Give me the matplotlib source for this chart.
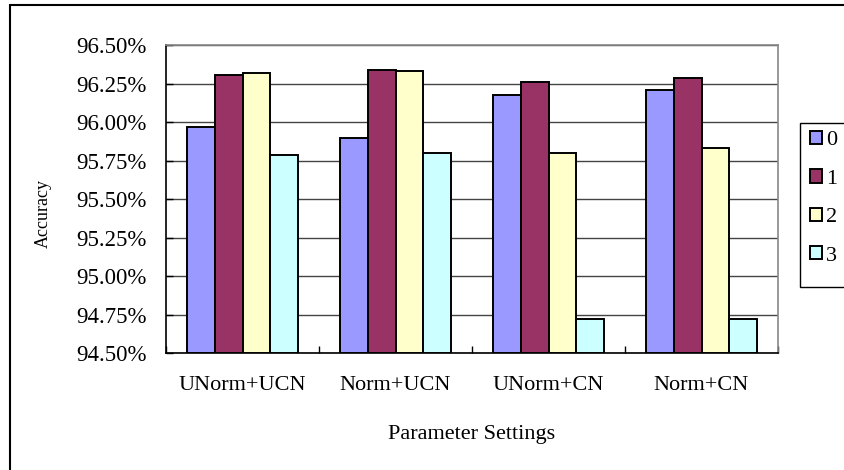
import matplotlib.pyplot as plt
import numpy as np
from matplotlib.patches import Rectangle, Patch
from matplotlib.ticker import FixedLocator, PercentFormatter

plt.rcParams['font.family'] = ['Liberation Serif', 'DejaVu Serif']

# accuracy (%) per parameter setting, one series per variant
settings = ["UNorm+UCN", "Norm+UCN", "UNorm+CN", "Norm+CN"]
series_names = ["0", "1", "2", "3"]
acc_0 = [95.97, 95.90, 96.18, 96.21]
acc_1 = [96.31, 96.34, 96.26, 96.29]
acc_2 = [96.32, 96.33, 95.80, 95.83]
acc_3 = [95.79, 95.80, 94.72, 94.72]
yticks = [94.50, 94.75, 95.00, 95.25, 95.50, 95.75, 96.00, 96.25, 96.50]

colors = ["#9999FF", "#993366", "#FFFFCC", "#CCFFFF"]

W, H = 844, 470
fig = plt.figure(figsize=(W / 100, H / 100), dpi=100)

# outer chart border (only left/top edges fall inside the image)
fig.patches.append(Rectangle((10 / W, -0.2), 1.2, 1.2 - 5 / H, transform=fig.transFigure,
                             fill=False, edgecolor="black", linewidth=1.5))

ax = fig.add_axes([166 / W, (H - 353.3) / H, 612 / W, 308 / H])

x = np.arange(len(settings))
w = 1 / 5.5
for k, vals in enumerate([acc_0, acc_1, acc_2, acc_3]):
    ax.bar(x + (k - 1.5) * w, np.array(vals) - 94.5, bottom=94.5, width=w,
           color=colors[k], edgecolor="black", linewidth=1.4, zorder=3)

ax.set_xlim(-0.5, len(settings) - 0.5)
ax.set_ylim(94.5, 96.5)
ax.yaxis.set_major_locator(FixedLocator(yticks))
ax.yaxis.set_major_formatter(PercentFormatter(decimals=2))
ax.grid(axis="y", color="#444444", linewidth=1.0, zorder=0)

ax.set_xticks(x)
ax.set_xticklabels(settings)
ax.set_xticks(np.arange(len(settings) + 1) - 0.5, minor=True)
ax.tick_params(axis="x", which="major", length=0, pad=16, labelsize=16)
ax.tick_params(axis="x", which="minor", direction="in", length=5, width=1)
ax.tick_params(axis="y", direction="in", length=5, width=1, pad=14, labelsize=16.5)

for s in ["top", "right"]:
    ax.spines[s].set_color("#888888")
    ax.spines[s].set_linewidth(1.2)
for s in ["left", "bottom"]:
    ax.spines[s].set_color("black")
    ax.spines[s].set_linewidth(1.2)

ax.set_ylabel("Accuracy", fontsize=13)
ax.yaxis.set_label_coords((52 - 166) / 612, (353.3 - 213) / 308)
ax.set_xlabel("Parameter Settings", fontsize=16)
ax.xaxis.set_label_coords(0.5, -(425 - 353.3) / 308)

# legend frame drawn separately so it runs off the right edge
fig.patches.append(Rectangle((800 / W, (H - 287) / H), 60 / W, 164 / H,
                             transform=fig.transFigure, fill=True, facecolor="white",
                             edgecolor="black", linewidth=1.0, zorder=1))
handles = [Patch(facecolor=c, edgecolor="black", linewidth=1.4) for c in colors]
fig.legend(handles, series_names, loc="upper left",
           bbox_to_anchor=(803 / W, (H - 124) / H), frameon=False,
           fontsize=16, handlelength=0.55, handleheight=0.55, handletextpad=0.2,
           labelspacing=0.85, borderpad=0.3, borderaxespad=0)

fig.savefig("out.png", dpi=100)
